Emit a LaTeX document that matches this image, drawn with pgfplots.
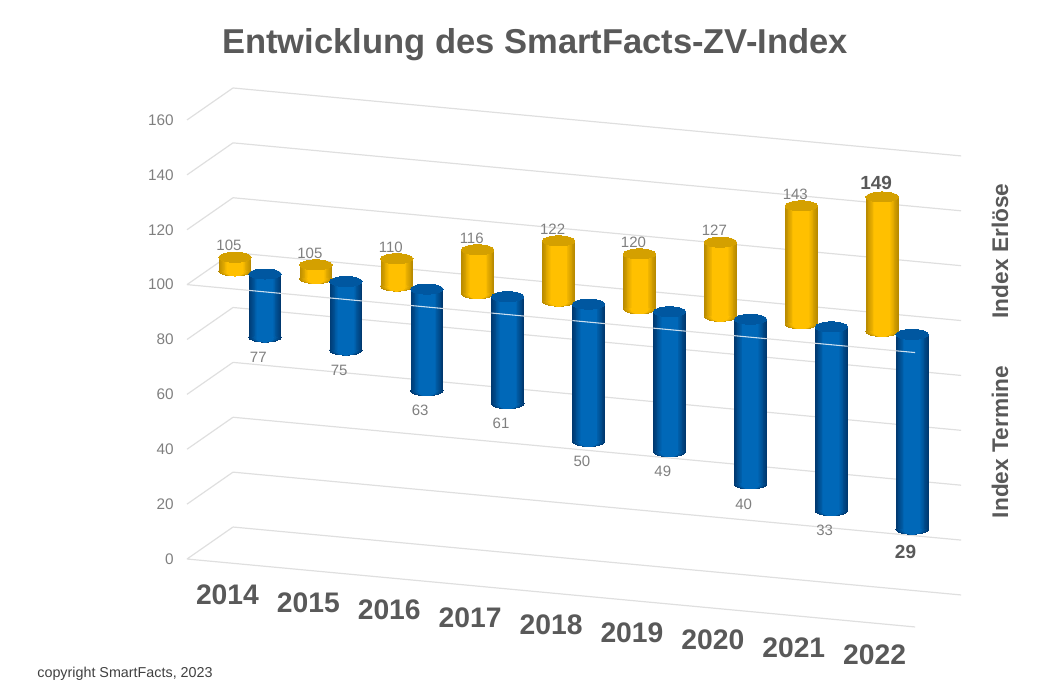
\documentclass[border=0pt]{standalone}
\usepackage{pgfplots}
\usepackage{pgfplotstable}
\usepackage{fontspec}
\setmainfont{Liberation Sans}
\pgfplotsset{compat=1.18}
\definecolor{gridc}{HTML}{DFDFDF}
\definecolor{tickc}{HTML}{7F7F7F}
\definecolor{headc}{HTML}{595959}
\definecolor{yedge}{HTML}{B88A00}
\definecolor{ycent}{HTML}{FFC000}
\definecolor{ytop}{HTML}{D4A000}
\definecolor{bedge}{HTML}{00386F}
\definecolor{bcent}{HTML}{0068B8}
\definecolor{btop}{HTML}{0057A0}
% values
\pgfplotstableread{
x v
0 105
1 105
2 110
3 116
4 122
5 120
6 127
7 143
8 149
}\erloese
\pgfplotstableread{
x v
0 77
1 75
2 63
3 61
4 50
5 49
6 40
7 33
8 29
}\termine
\pgfplotstableread{
x v
0 100
1 100
2 100
3 100
4 100
5 100
6 100
7 100
8 100
}\basis
\pgfplotstableread{
x v
0 100
0 105
nan nan
1 100
1 105
nan nan
2 100
2 110
nan nan
3 100
3 116
nan nan
4 100
4 122
nan nan
5 100
5 120
nan nan
6 100
6 127
nan nan
7 100
7 143
nan nan
8 100
8 149
}\erloeseseg
\pgfplotstableread{
x v
0 100
0 77
nan nan
1 100
1 75
nan nan
2 100
2 63
nan nan
3 100
3 61
nan nan
4 100
4 50
nan nan
5 100
5 49
nan nan
6 100
6 40
nan nan
7 100
7 33
nan nan
8 100
8 29
}\termineseg
% floor and side edges of the chart box, in the front plane
\pgfplotstableread{
x v
-0.5 0
0.0686 13.23
nan nan
-0.5 20
0.0686 33.23
nan nan
-0.5 40
0.0686 53.23
nan nan
-0.5 60
0.0686 73.23
nan nan
-0.5 80
0.0686 93.23
nan nan
-0.5 100
0.0686 113.23
nan nan
-0.5 120
0.0686 133.23
nan nan
-0.5 140
0.0686 153.23
nan nan
-0.5 160
0.0686 173.23
nan nan
-0.5 0
8.5 0
nan nan
-0.5 100
8.5 100
}\edges
\pgfplotstableread{
x v
0.263 100
0.666 100
nan nan
1.263 100
1.666 100
nan nan
2.263 100
2.666 100
nan nan
3.263 100
3.666 100
nan nan
4.263 100
4.666 100
nan nan
5.263 100
5.666 100
nan nan
6.263 100
6.666 100
nan nan
7.263 100
7.666 100
nan nan
8.263 100
8.5 100
}\whiteline
\pgfplotsset{
  plane/.style={
    x={(60.675pt,-5.6625pt)}, y={(0pt,2.058pt)},
    xmin=-0.5, xmax=8.5, ymin=0, ymax=160,
    clip=false, clip marker paths=true, anchor=origin, unbounded coords=jump,
    /pgf/number format/assume math mode=true,
    axis line style={draw=none}, tick style={draw=none},
    xtick=\empty, ytick=\empty},
}
% cylinder: #1 segments, #2 lower ends, #3 upper ends, #4 edge, #5 centre, #6 top
\newcommand\cyl[6]{%
  \pgfplotsinvokeforeach{100,90,80,70,60,50,40,30,20,10,0}{%
    \addplot[only marks, mark=*, mark size={(8+8.3*##1/100)*0.75pt},
      mark options={yscale={5/(8+8.3*##1/100)}, line width=0pt,
        draw=#4!##1!#5, fill=#4!##1!#5}]
      table[x=x,y=v] {#2};
    \addplot[mark=none, color=#4!##1!#5, line width={(16+16.6*##1/100)*0.75pt}]
      table[x=x,y=v] {#1};
  }%
  \addplot[only marks, mark=*, mark size=12.2pt,
    mark options={yscale=0.307, line width=0pt, draw=#6, fill=#6}]
    table[x=x,y=v] {#3};
}
\begin{document}
\begin{tikzpicture}[x=0.75pt,y=-0.75pt]
\path[use as bounding box] (0,0) rectangle (1049,686);

% back wall
\begin{axis}[plane, at={({273.45*0.75pt},{-530.78*0.75pt})},
  ytick={0,20,...,160}, yticklabels={}, ymajorgrids,
  major grid style={gridc, line width=0.9pt}]
\end{axis}

% front plane: value ticks, years, box edges
\begin{axis}[plane, at={({227.45*0.75pt},{-562.78*0.75pt})},
  ytick={0,20,...,160},
  xtick={0,...,8},
  xticklabels={2014,2015,2016,2017,2018,2019,2020,2021,2022},
  yticklabel style={font=\fontsize{11.5}{14}\selectfont, text=tickc, anchor=east, xshift=-6.5pt},
  xticklabel style={font=\fontsize{21.2}{24}\bfseries\selectfont, text=headc, anchor=center, yshift=-24pt}]
\addplot[gridc, line width=0.9pt, mark=none] table[x=x,y=v] {\edges};
\end{axis}

% Index Erloese
\begin{axis}[plane, at={({235*0.75pt},{-545.4*0.75pt})}]
\cyl{\erloeseseg}{\basis}{\erloese}{yedge}{ycent}{ytop}
\addplot[only marks, mark=none, restrict x to domain=0:7, point meta=y,
  nodes near coords,
  every node near coord/.append style={anchor=center, xshift=-4.5pt, yshift=8.6pt,
    text=tickc, font=\fontsize{11.25}{13}\selectfont}]
  table[x=x,y=v] {\erloese};
\addplot[only marks, mark=none, restrict x to domain=8:8, point meta=y,
  nodes near coords,
  every node near coord/.append style={anchor=center, xshift=-4.5pt, yshift=10.2pt,
    text=headc, font=\fontsize{14.25}{16}\bfseries\selectfont}]
  table[x=x,y=v] {\erloese};
\end{axis}

% Index Termine
\begin{axis}[plane, at={({265*0.75pt},{-548.4*0.75pt})}]
\cyl{\termineseg}{\termine}{\basis}{bedge}{bcent}{btop}
\addplot[only marks, mark=none, restrict x to domain=0:7, point meta=y,
  nodes near coords,
  every node near coord/.append style={anchor=center, xshift=-5pt, yshift=-15pt,
    text=tickc, font=\fontsize{11.25}{13}\selectfont}]
  table[x=x,y=v] {\termine};
\addplot[only marks, mark=none, restrict x to domain=8:8, point meta=y,
  nodes near coords,
  every node near coord/.append style={anchor=center, xshift=-5pt, yshift=-17pt,
    text=headc, font=\fontsize{14.25}{16}\bfseries\selectfont}]
  table[x=x,y=v] {\termine};
\end{axis}

% line at 100 in front of the blue cylinders
\begin{axis}[plane, at={({227.45*0.75pt},{-562.78*0.75pt})}]
\addplot[white, opacity=0.8, line width=0.8pt, mark=none] table[x=x,y=v] {\whiteline};
\end{axis}

\node[text=headc, font=\fontsize{25.9}{30}\bfseries\selectfont] at (535,45) {Entwicklung des SmartFacts-ZV-Index};
\node[text=headc, rotate=90, font=\fontsize{17}{20}\bfseries\selectfont] at (1000,251) {Index Erlöse};
\node[text=headc, rotate=90, font=\fontsize{17}{20}\bfseries\selectfont] at (1000,442) {Index Termine};
\node[text=black!75, font=\fontsize{10.75}{12}\selectfont] at (125,674) {copyright SmartFacts, 2023};
\end{tikzpicture}
\end{document}
